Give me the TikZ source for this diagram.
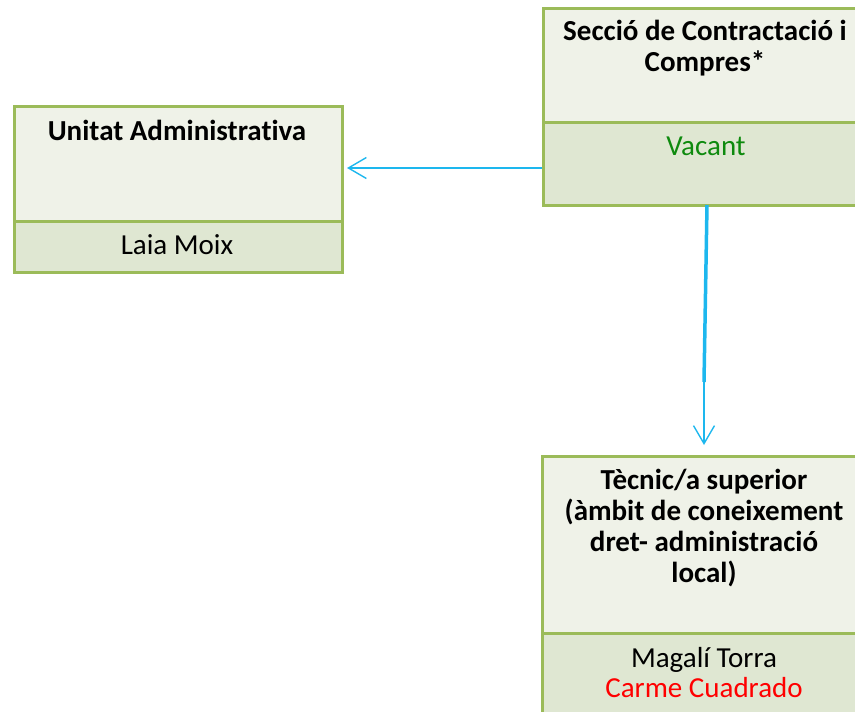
\documentclass[tikz,border=0pt]{standalone}
\usepackage{fontspec}
\setmainfont{Carlito}[RawFeature={-liga;-dlig;-clig}]
\usetikzlibrary{arrows.meta}
\definecolor{boxline}{HTML}{9BBB59}
\definecolor{topfill}{HTML}{EFF2E8}
\definecolor{botfill}{HTML}{DFE7D2}
\definecolor{conn}{HTML}{1DB7EE}
\definecolor{vacgreen}{HTML}{0E8A0E}
\definecolor{redname}{HTML}{FF0000}
\tikzset{
  part/.style={draw=boxline, line width=3pt, anchor=north west, inner sep=0pt, minimum width=#1},
  toppart/.style={part=#1, fill=topfill},
  botpart/.style={part=#1, fill=botfill},
  title/.style={font=\bfseries\fontsize{29}{31}\selectfont, align=center, anchor=base, inner sep=0pt},
  body/.style={font=\fontsize{29}{30}\selectfont, align=center, anchor=base, inner sep=0pt},
  arrowline/.style={draw=conn, line width=1.4pt, -{Straight Barb[length=18pt, width=21pt, line width=1.4pt]}}
}
\begin{document}
\begin{tikzpicture}[x=1pt, y=-1pt]
\useasboundingbox (0,0) rectangle (855,712);
\clip (0,0) rectangle (855,712);
% Unitat Administrativa
\node[toppart=328pt, minimum height=115pt] (aTop) at (13,105) {};
\node[botpart=328pt, minimum height=51pt] (aBot) at (13,220) {};
\node[title] (aTitle) at (177,140) {Unitat Administrativa};
\node[body] (aName) at (177,254) {Laia Moix};
% Seccio de Contractacio i Compres
\node[toppart=326pt, minimum height=114pt] (bTop) at (542,7) {};
\node[botpart=326pt, minimum height=83pt] (bBot) at (542,121) {};
\node[title] (bTitle) at (705,71) {Secció de Contractació i\\Compres*};
\node[body, text=vacgreen] (bName) at (706,155) {Vacant};
% Tecnic/a superior
\node[toppart=326pt, minimum height=177pt] (cTop) at (541,455) {};
\node[botpart=326pt, minimum height=110pt] (cBot) at (541,632) {};
\node[title] (cTitle) at (704,582) {Tècnic/a superior\\(àmbit de coneixement\\dret- administració\\local)};
\node[body] (cName) at (704,697) {Magalí Torra\\\textcolor{redname}{Carme Cuadrado}};
% connectors
\coordinate (aEnd) at (347,168);
\coordinate (vMid) at (704,382);
\coordinate (cEnd) at (704,445);
\draw[arrowline] (bBot.west |- aEnd) -- (aEnd);
\draw[draw=conn, line width=3.5pt] (707,205) -- (vMid);
\draw[arrowline] (vMid) -- (cEnd);
\end{tikzpicture}
\end{document}
